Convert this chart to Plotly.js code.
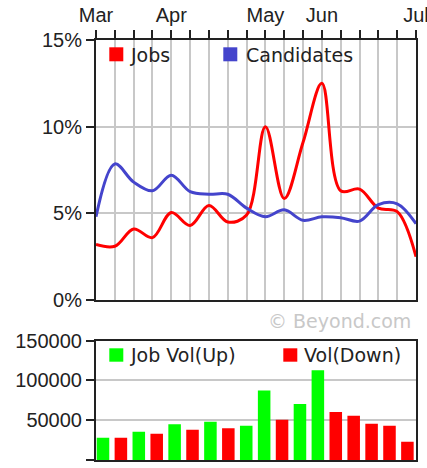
<!DOCTYPE html>
<html>
<head>
<meta charset="utf-8">
<script src="https://cdn.plot.ly/plotly-3.0.1.min.js"></script>
<style>html,body{margin:0;padding:0;background:#fff;}#chart{width:427px;height:468px;}</style>
</head>
<body>
<div id="chart"></div>
<script>
// weekly index positions
var weeks = [0,1,2,3,4,5,6,7,8,9,10,11,12,13,14,15,16,17];
// month tick labels at week positions
var monthPos = [0,4,9,12,17];
var monthNames = ["Mar","Apr","May","Jun","Jul"];
// percentage series
var jobs = [3.2,3.1,4.1,3.6,5.05,4.3,5.45,4.5,4.9,10.0,5.85,9.1,12.5,6.3,6.4,5.3,5.1,2.5];
var candidates = [4.8,7.85,6.8,6.3,7.2,6.25,6.1,6.1,5.3,4.8,5.2,4.6,4.8,4.75,4.55,5.5,5.55,4.4];
// volume bars
var volUp = [28000,null,35500,null,45000,null,48000,null,43000,87500,null,70500,113000,null,null,null,null,null];
var volDown = [null,28000,null,33000,null,38000,null,40000,null,null,50500,null,null,60500,55500,45500,43000,23000];
var pctTicks = [0,5,10,15];
var pctLabels = ["0%","5%","10%","15%"];
var volTicks = [0,50000,100000,150000];
var volLabels = ["0","50000","100000","150000"];

var tickText = weeks.map(function(w){var i=monthPos.indexOf(w);return i>=0?monthNames[i]:"";});

var RED="#ff0000", BLUE="#4444cc", GREEN="#00ff00";
var tickFont={family:"Liberation Sans, Arial, sans-serif",size:20,color:"#222"};
var legFont={family:"DejaVu Sans, sans-serif",size:19,color:"#222"};

var traces=[
 {x:weeks,y:jobs,type:"scatter",mode:"lines",line:{color:RED,width:3,shape:"spline"},xaxis:"x",yaxis:"y",name:"Jobs",showlegend:false,hoverinfo:"none"},
 {x:weeks,y:candidates,type:"scatter",mode:"lines",line:{color:BLUE,width:3,shape:"spline"},xaxis:"x",yaxis:"y",name:"Candidates",showlegend:false,hoverinfo:"none"},
 {x:weeks,y:volUp,type:"bar",width:0.7,marker:{color:GREEN,line:{width:0}},xaxis:"x2",yaxis:"y2",name:"Job Vol(Up)",showlegend:false,hoverinfo:"none"},
 {x:weeks,y:volDown,type:"bar",width:0.7,marker:{color:RED,line:{width:0}},xaxis:"x2",yaxis:"y2",name:"Vol(Down)",showlegend:false,hoverinfo:"none"}
];

function px(x){return (x-96)/320;}
function py(y){return (460-y)/420;}

var layout={
 width:427,height:468,
 margin:{l:96,r:11,t:40,b:8,pad:0},
 paper_bgcolor:"#fff",plot_bgcolor:"#fff",
 barmode:"overlay",
 showlegend:false,
 xaxis:{domain:[0,1],anchor:"y",side:"top",range:[0,17],tickmode:"array",tickvals:weeks,ticktext:tickText,
   ticks:"outside",ticklen:8,tickwidth:2,tickcolor:"#222",showgrid:true,gridcolor:"#c8c8c8",gridwidth:2,
   ticklabeloverflow:"allow",
   showline:true,linecolor:"#222",linewidth:2,mirror:true,zeroline:false,tickfont:tickFont,fixedrange:true},
 yaxis:{domain:[py(300),1],anchor:"x",range:[0,15],tickmode:"array",tickvals:pctTicks,ticktext:pctLabels,
   ticks:"outside",ticklen:8,tickwidth:2,tickcolor:"#222",showgrid:true,gridcolor:"#c8c8c8",gridwidth:2,
   showline:true,linecolor:"#222",linewidth:2,mirror:true,zeroline:false,tickfont:tickFont,fixedrange:true},
 xaxis2:{domain:[0,1],anchor:"y2",range:[-0.39,17.48],showticklabels:false,ticks:"",showgrid:false,
   showline:true,linecolor:"#222",linewidth:2,mirror:true,zeroline:false,fixedrange:true},
 yaxis2:{domain:[0,py(340.7)],anchor:"x2",range:[0,150000],tickmode:"array",tickvals:volTicks,ticktext:volLabels,
   ticks:"outside",ticklen:8,tickwidth:2,tickcolor:"#222",showgrid:true,gridcolor:"#c8c8c8",gridwidth:2,
   showline:true,linecolor:"#222",linewidth:2,mirror:true,zeroline:false,tickfont:tickFont,fixedrange:true},
 shapes:[
  {type:"rect",xref:"paper",yref:"paper",x0:px(109.3),x1:px(123.3),y0:py(61.3),y1:py(47.3),fillcolor:RED,line:{width:0}},
  {type:"rect",xref:"paper",yref:"paper",x0:px(223.3),x1:px(237.3),y0:py(61.3),y1:py(47.3),fillcolor:BLUE,line:{width:0}},
  {type:"rect",xref:"paper",yref:"paper",x0:px(109.3),x1:px(123.3),y0:py(361.7),y1:py(348.3),fillcolor:GREEN,line:{width:0}},
  {type:"rect",xref:"paper",yref:"paper",x0:px(283.3),x1:px(297.3),y0:py(361.7),y1:py(348.3),fillcolor:RED,line:{width:0}}
 ],
 annotations:[
  {xref:"paper",yref:"paper",x:px(128),y:py(55),xanchor:"left",yanchor:"middle",text:"Jobs",showarrow:false,font:legFont},
  {xref:"paper",yref:"paper",x:px(244),y:py(55),xanchor:"left",yanchor:"middle",text:"Candidates",showarrow:false,font:legFont},
  {xref:"paper",yref:"paper",x:px(128),y:py(355),xanchor:"left",yanchor:"middle",text:"Job Vol(Up)",showarrow:false,font:legFont},
  {xref:"paper",yref:"paper",x:px(302),y:py(355),xanchor:"left",yanchor:"middle",text:"Vol(Down)",showarrow:false,font:legFont},
  {xref:"paper",yref:"paper",x:px(413),y:py(320.5),xanchor:"right",yanchor:"middle",text:"© Beyond.com",showarrow:false,
   font:{family:"DejaVu Sans, sans-serif",size:19,color:"#c8c8c8"}}
 ]
};
Plotly.newPlot("chart",traces,layout,{staticPlot:true,displayModeBar:false});
</script>
</body>
</html>
